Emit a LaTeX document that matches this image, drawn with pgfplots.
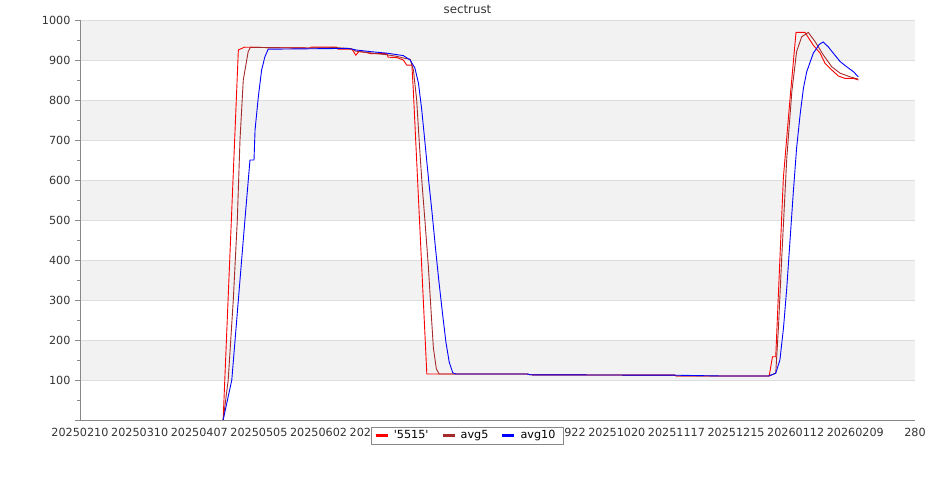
\documentclass[border=0pt]{standalone}
\usepackage{pgfplots}
\pgfplotsset{compat=1.18}
\usepackage{fontspec}
\setmainfont{DejaVu Sans}
\definecolor{band}{HTML}{F2F2F2}
\definecolor{gridc}{HTML}{DDDDDD}
\definecolor{axc}{HTML}{888888}
\definecolor{txt}{HTML}{333333}
\definecolor{avgfive}{HTML}{A52A2A}
\begin{document}
\begin{tikzpicture}
\begin{axis}[
  set layers,
  at={(80pt,80pt)}, anchor=south west,
  scale only axis, width=835pt, height=400pt,
  xmin=0, xmax=280, ymin=0, ymax=1000,
  axis x line*=bottom, axis y line*=left,
  axis line style={axc, line width=0.8pt, -},
  font=\fontsize{11.2}{13}\selectfont,
  /pgf/number format/assume math mode=true,
  ticklabel style={txt},
  xtick={0,20,...,280},
  xticklabels={20250210,20250310,20250407,20250505,20250602,20250630,20250728,20250825,20250922,20251020,20251117,20251215,20260112,20260209,280},
  x tick style={draw=none},
  xticklabel style={yshift=0pt},
  ytick={0,100,...,1000},
  yticklabels={,100,200,300,400,500,600,700,800,900,1000},
  minor ytick={50,150,...,950},
  tick align=outside,
  y tick style={axc, line width=0.8pt},
  major tick length=5pt, minor tick length=3pt,
  yticklabel style={xshift=-1pt},
  ymajorgrids, grid style={gridc, line width=0.8pt},
  legend columns=3,
  legend style={at={(axis description cs:0.4641,-0.0388)}, anchor=center,
    draw=axc, line width=0.8pt, fill=white, text=black,
    font=\fontsize{11.2}{13}\selectfont,
    inner xsep=3pt, inner ysep=1.5pt,
    nodes={inner xsep=5pt, inner ysep=2pt},
    /tikz/every even column/.append style={column sep=8pt}},
  legend image code/.code={\draw[line width=2.2pt] (0pt,0pt) -- (12pt,0pt);},
]
\addplot[fill=band, draw=none, forget plot, on layer=axis background] coordinates {(0,900)(280,900)(280,1000)(0,1000)} -- cycle;
\addplot[fill=band, draw=none, forget plot, on layer=axis background] coordinates {(0,700)(280,700)(280,800)(0,800)} -- cycle;
\addplot[fill=band, draw=none, forget plot, on layer=axis background] coordinates {(0,500)(280,500)(280,600)(0,600)} -- cycle;
\addplot[fill=band, draw=none, forget plot, on layer=axis background] coordinates {(0,300)(280,300)(280,400)(0,400)} -- cycle;
\addplot[fill=band, draw=none, forget plot, on layer=axis background] coordinates {(0,100)(280,100)(280,200)(0,200)} -- cycle;
\addplot[red, line width=0.9pt] coordinates {
(48,0)(53.1,925)(55.1,932)(63,931)(77,930)(77.5,932)(86,932)(86.5,927)(91.2,927)(92.5,912)(93.5,921)(96,919)(97.3,916)(102.9,916)(103.3,907)(106.3,906)(108.4,900)(109.6,887)(111.3,887)(111.8,820)(116.3,115)(150,115)(151,113)(199.5,112)(200,110)(231,110)(231.15,112)(232.2,158)(233.3,158)(235.85,604)(238.1,804)(240.1,969)(243.1,969)(245.9,937)(248.2,917)(249.8,892)(252.1,875)(254.3,860)(256.5,854)(259.3,854)(261,850)
};
\addlegendentry{\textquotesingle5515\textquotesingle}
\addplot[avgfive, line width=0.9pt] coordinates {
(48,0)(49.7,100)(51.4,300)(52.75,500)(53.65,700)(54.75,850)(56.4,921)(57.2,932)(63,931)(77,930)(86,931)(91,928)(92.5,922)(94,921)(97,918)(103,913)(106.3,909)(108.4,905)(110.7,902)(111.8,875)(112.9,800)(113.8,690)(114.7,590)(115.7,495)(116.8,385)(117.7,275)(118.5,180)(119.5,128)(120.4,115)(150,115)(151,113)(199.5,112)(200,110)(231,110)(233.3,117)(234.2,230)(235.3,404)(237,654)(238.7,821)(240.3,921)(242,958)(244.2,969)(246.5,946)(249.3,912)(252.1,883)(254.9,867)(258.2,858)(261,852)
};
\addlegendentry{avg5}
\addplot[blue, line width=0.9pt] coordinates {
(48,0)(50.9,100)(53.1,300)(55.3,500)(57,650)(58.35,650)(58.7,725)(59.8,808)(60.9,875)(62,908)(63.1,927)(90,929)(92.6,925)(97.3,921)(103,917)(108.4,911)(110.7,900)(112.3,880)(113.5,842)(114.6,775)(115.7,692)(116.9,600)(118.1,515)(119.2,430)(120.3,350)(121.5,270)(122.7,195)(123.8,145)(125,118)(126,115)(150,115)(151,113)(199.5,112)(215,110)(231,110)(233.3,117)(234.7,150)(235.9,230)(237,330)(238.1,450)(239.2,570)(240.3,680)(241.5,765)(242.6,830)(243.7,871)(245.9,917)(247.9,939)(249.2,945)(250.9,933)(252.6,917)(254.9,896)(257.1,883)(259.3,871)(261,858)
};
\addlegendentry{avg10}
\end{axis}
\node[txt, font=\fontsize{11.8}{13}\selectfont, inner sep=0pt, anchor=base] at (467.5pt,486pt) {sectrust};
\path (0,0) rectangle (935pt,500pt);
\end{tikzpicture}
\end{document}
